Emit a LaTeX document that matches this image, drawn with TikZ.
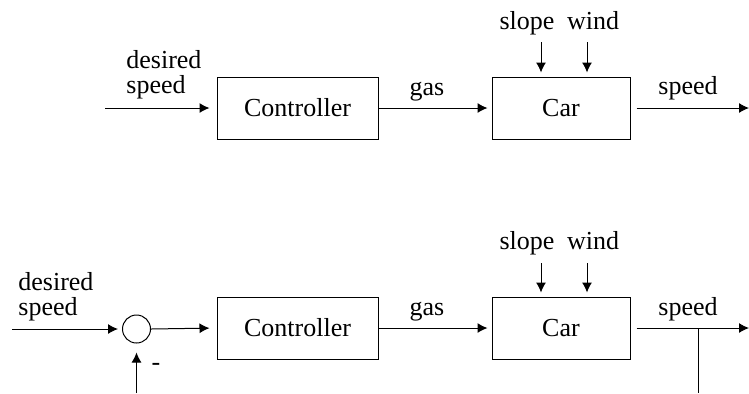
\documentclass[tikz,border=0pt]{standalone}
\usepackage{fontspec}
\setmainfont{Liberation Serif}
\usetikzlibrary{arrows.meta}

\begin{document}
\begin{tikzpicture}[x=0.5pt,y=-0.5pt,
  font=\fontsize{13}{12.5}\selectfont,
  block/.style={draw,line width=0.5pt,inner sep=0pt,minimum height=31pt},
  sig/.style={line width=0.5pt,-{Latex[length=5pt,width=5pt]}},
  lab/.style={inner sep=0pt,anchor=base}]
\useasboundingbox (0,0) rectangle (749,393);

% open loop
\node[block,minimum width=80.5pt] (ctrl1) at (297.5,108) {Controller};
\node[block,minimum width=69pt] (car1) at (561,108) {Car};
\node[inner sep=0pt,align=left,anchor=south west] (des1) at (126,99) {desired\\speed};
\node[lab] (gas1) at (427,95) {gas};
\node[lab] (slope1) at (527,29) {slope};
\node[lab] (wind1) at (593,29) {wind};
\node[lab] (spd1) at (688,94) {speed};
\coordinate (in1) at (105,108);
\coordinate (out1) at (749,108);
\coordinate (s1) at (541,42);
\coordinate (w1) at (587,42);
\draw[sig,shorten >=3.5pt] (in1) -- (ctrl1.west);
\draw[sig,shorten >=2pt] (ctrl1.east) -- (car1.west);
\draw[sig,shorten >=2pt] (s1) -- (s1 |- car1.north);
\draw[sig,shorten >=2pt] (w1) -- (w1 |- car1.north);
\draw[sig,shorten <=3pt] (car1.east) -- (out1);

% closed loop
\node[block,minimum width=80.5pt] (ctrl2) at (297.5,328) {Controller};
\node[block,minimum width=69pt] (car2) at (561,328) {Car};
\node[draw,circle,line width=0.5pt,inner sep=0pt,minimum size=14pt] (sum) at (136.5,329) {};
\node[inner sep=0pt,align=left,anchor=south west] (des2) at (18,321) {desired\\speed};
\node[lab] (gas2) at (427,315) {gas};
\node[lab] (slope2) at (527,249) {slope};
\node[lab] (wind2) at (593,249) {wind};
\node[lab] (spd2) at (688,315) {speed};
\node[lab] (neg) at (156,370) {-};
\coordinate (in2) at (12,329);
\coordinate (out2) at (749,328);
\coordinate (s2) at (541,263);
\coordinate (w2) at (587,263);
\coordinate (fb) at (136.5,393);
\coordinate (br) at (698,328);
\draw[sig,shorten >=2pt] (in2) -- (sum.west);
\draw[sig,shorten >=3.5pt] (sum.east) -- (ctrl2.west);
\draw[sig,shorten >=2pt] (ctrl2.east) -- (car2.west);
\draw[sig,shorten >=2pt] (s2) -- (s2 |- car2.north);
\draw[sig,shorten >=2pt] (w2) -- (w2 |- car2.north);
\draw[sig,shorten <=3pt] (car2.east) -- (out2);
\draw[sig,shorten >=4.5pt] (fb) -- (sum.south);
\draw[line width=0.5pt] (br) -- (br |- fb);
\end{tikzpicture}
\end{document}
